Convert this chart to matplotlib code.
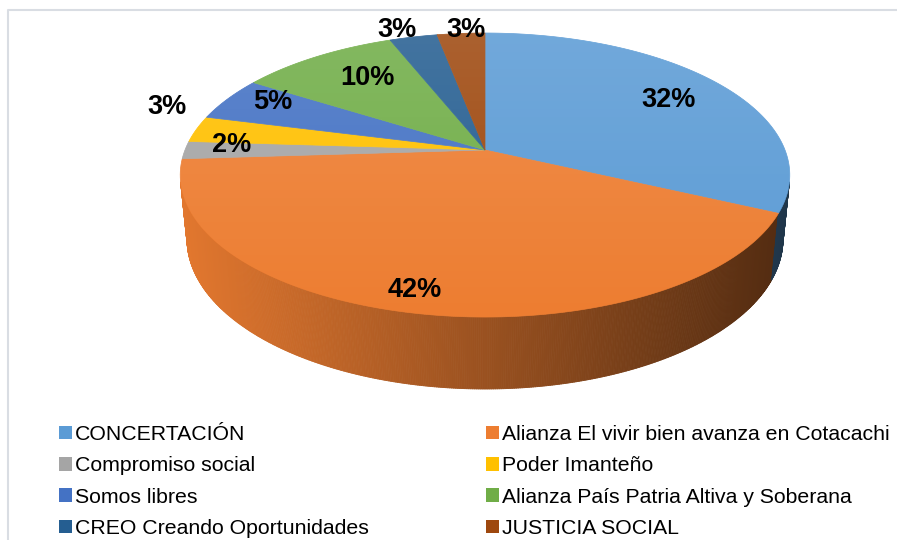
import numpy as np
import matplotlib
matplotlib.use("Agg")
import matplotlib.pyplot as plt
from matplotlib.patches import Polygon, Patch
from matplotlib.collections import PolyCollection
from matplotlib.colors import to_rgb

plt.rcParams["font.family"] = ["Liberation Sans", "DejaVu Sans"]

parties = [
    "CONCERTACIÓN",
    "Alianza El vivir bien avanza en Cotacachi",
    "Compromiso social",
    "Poder Imanteño",
    "Somos libres",
    "Alianza País Patria Altiva y Soberana",
    "CREO Creando Oportunidades",
    "JUSTICIA SOCIAL",
]
shares = [32, 42, 2, 3, 5, 10, 3, 3]
colors = ["#5B9BD5", "#ED7D31", "#A5A5A5", "#FFC000",
          "#4472C4", "#70AD47", "#255E91", "#9E480E"]

# where each percentage sits: radius (1 = rim) and angle nudge in degrees
label_radius = [0.76, 0.885, 0.85, 1.17, 0.84, 0.72, 1.09, 1.03]
label_nudge = [-1.6, -2.1, -2.5, -7.5, -3.0, -2.9, 2.4, -1.2]

# tilted pie seen in perspective, everything in pixel units
CX, CY = 485, 150
FOCAL, DIST = 1512, 5.04
ELEV = np.radians(27.3)
DEPTH = 0.242
ce, se = np.cos(ELEV), np.sin(ELEV)


def project(x, z, y=0.0):
    up = y * ce + z * se
    fwd = -y * se + z * ce + DIST
    return CX + FOCAL * x / fwd, CY - FOCAL * up / fwd


total = float(sum(shares))
cum = np.concatenate([[0], np.cumsum(shares)]) / total
start = 90 - 360 * cum[:-1]
end = 90 - 360 * cum[1:]

fig = plt.figure(figsize=(8.97, 5.40), dpi=100)
ax = fig.add_axes([0, 0, 1, 1])

# side wall, only the part facing the camera
lim = np.degrees(np.arcsin(1 / (DIST * ce)))
th = np.radians(np.linspace(-180 + lim, -lim, 500))
strips, fills = [], []
for a, b in zip(th[:-1], th[1:]):
    mid = np.degrees((a + b) / 2)
    frac = ((90 - mid) % 360) / 360
    k = min(np.searchsorted(cum, frac, side="right") - 1, len(shares) - 1)
    p1 = project(np.cos(a), np.sin(a))
    p2 = project(np.cos(b), np.sin(b))
    p3 = project(np.cos(b), np.sin(b), -DEPTH)
    p4 = project(np.cos(a), np.sin(a), -DEPTH)
    strips.append([p1, p2, p3, p4])
    shade = np.clip(0.95 - 0.6 * ((p1[0] + p2[0]) / 2 - 185) / 600, 0.33, 1)
    fills.append(tuple(np.array(to_rgb(colors[k])) * shade))
ax.add_collection(PolyCollection(strips, facecolors=fills, edgecolors=fills,
                                 linewidths=0.6))

# top face wedges
for k in range(len(shares)):
    arc = np.radians(np.linspace(start[k], end[k], 120))
    xs, ys = project(np.cos(arc), np.sin(arc))
    pts = [(CX, CY)] + list(zip(xs, ys))
    ax.add_patch(Polygon(pts, closed=True, facecolor=colors[k],
                         edgecolor=colors[k], linewidth=0.5))

# soft light on the top face
ring = np.radians(np.linspace(0, 360, 360))
rx, ry = project(np.cos(ring), np.sin(ring))
top_face = Polygon(list(zip(rx, ry)), closed=True, transform=ax.transData)
glow = np.ones((256, 1, 4))
glow[:, 0, 3] = np.linspace(0.14, 0.0, 256)
im = ax.imshow(glow, extent=(170, 800, 320, 30), aspect="auto",
               interpolation="bilinear", zorder=2)
im.set_clip_path(top_face)

# percentage labels
for k, v in enumerate(shares):
    ang = np.radians((start[k] + end[k]) / 2 + label_nudge[k])
    lx, ly = project(label_radius[k] * np.cos(ang), label_radius[k] * np.sin(ang))
    ax.text(lx, ly, f"{v}%", ha="center", va="center", fontsize=19.5,
            fontweight="bold", color="black", zorder=5)

# chart-area frame (top and left edges only show)
ax.plot([8, 8, 897], [540, 10, 10], color="#D9DDE3", lw=1.5, zorder=1)

ax.set_xlim(0, 897)
ax.set_ylim(540, 0)
ax.axis("off")

order = [0, 2, 4, 6, 1, 3, 5, 7]
handles = [Patch(facecolor=colors[i], edgecolor="none") for i in order]
fig.legend(handles, [parties[i] for i in order], ncol=2, frameon=False,
           loc="upper left", bbox_to_anchor=(59 / 897, 1 - 425 / 540),
           borderpad=0, borderaxespad=0, fontsize=15.3,
           handlelength=0.62, handleheight=0.62, handletextpad=0.15,
           labelspacing=0.58, columnspacing=5.5)

fig.savefig("out.png", dpi=100)
